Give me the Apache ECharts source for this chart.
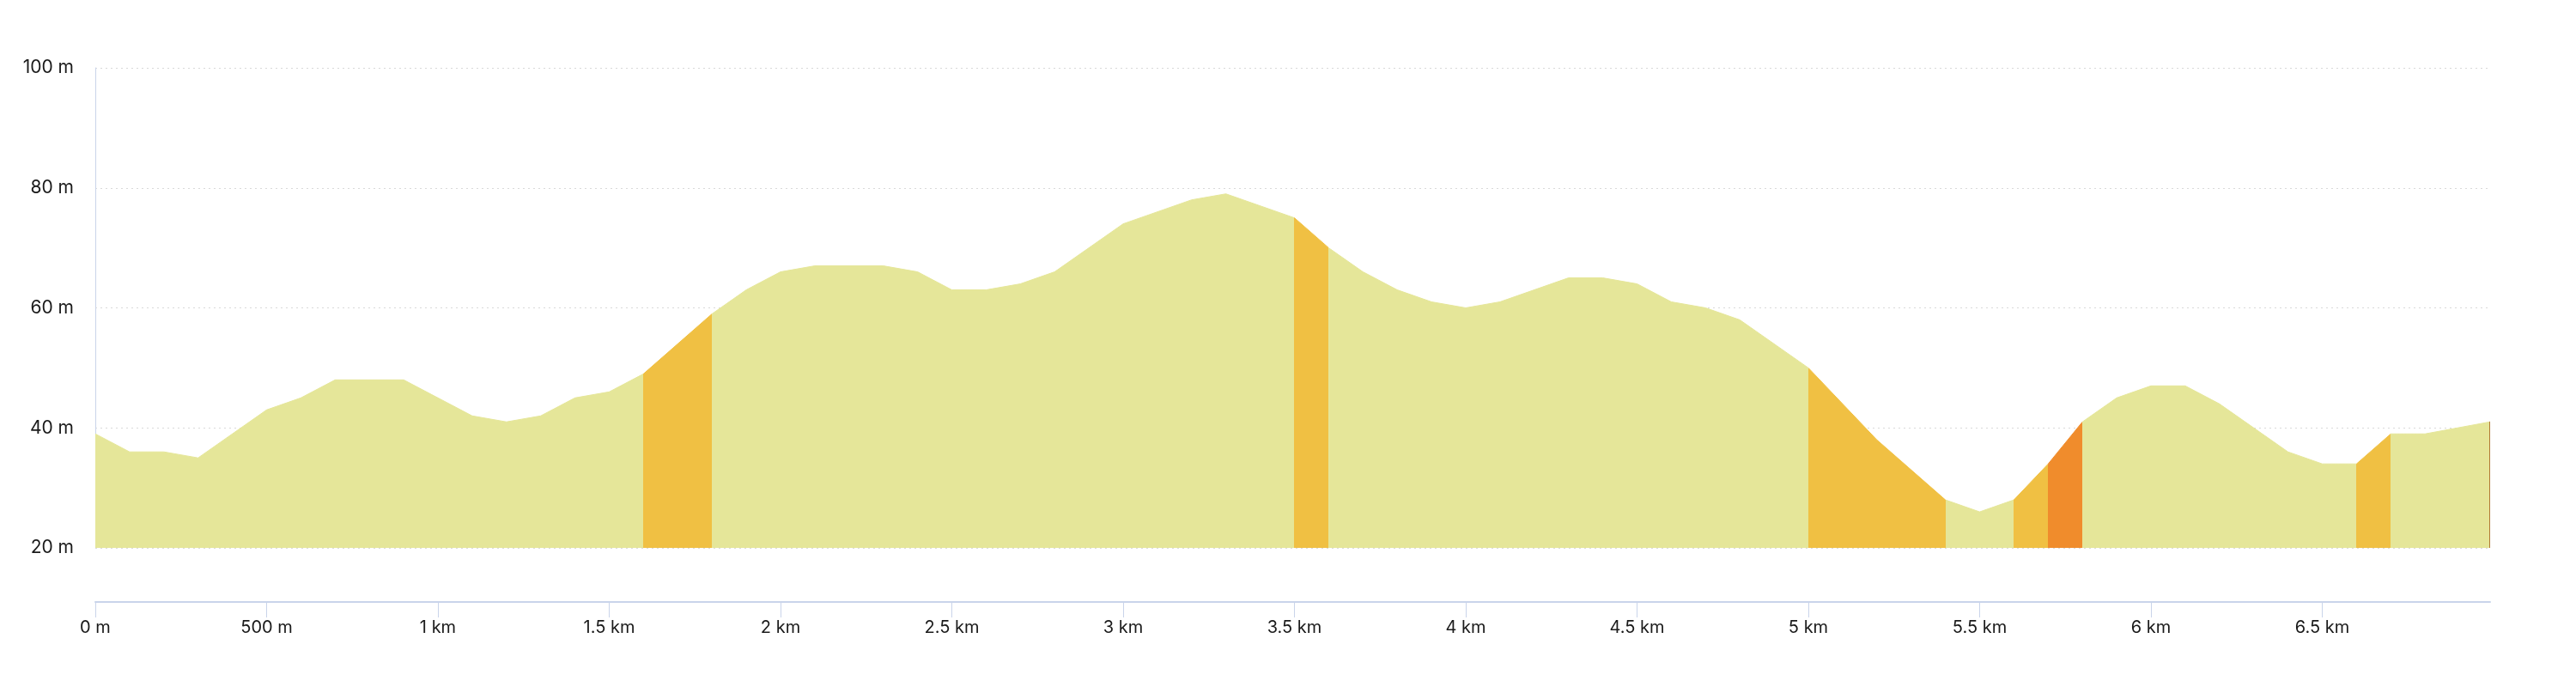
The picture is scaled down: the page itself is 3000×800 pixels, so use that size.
<!DOCTYPE html>
<html>
<head>
<meta charset="utf-8">
<script src="https://cdn.jsdelivr.net/npm/echarts@6/dist/echarts.min.js"></script>
<style>
  html, body { margin: 0; padding: 0; background: #ffffff; }
  #chart { width: 3000px; height: 800px; }
</style>
</head>
<body>
<div id="chart"></div>
<script>
// Distance along the route (m) and elevation (m) at each profile vertex
const distances = [0, 100, 200, 300, 500, 600, 700, 900, 1100, 1200, 1300, 1400, 1500, 1600, 1800, 1900, 2000, 2100, 2300, 2400, 2500, 2600, 2700, 2800, 3000, 3200, 3300, 3500, 3600, 3700, 3800, 3900, 4000, 4100, 4300, 4400, 4500, 4600, 4700, 4800, 5000, 5200, 5400, 5500, 5600, 5700, 5800, 5900, 6000, 6100, 6200, 6400, 6500, 6600, 6700, 6800, 6990];
const elevations = [39, 36, 36, 35, 43, 45, 48, 48, 42, 41, 42, 45, 46, 49, 59, 63, 66, 67, 67, 66, 63, 63, 64, 66, 74, 78, 79, 75, 70, 66, 63, 61, 60, 61, 65, 65, 64, 61, 60, 58, 50, 38, 28, 26, 28, 34, 41, 45, 47, 47, 44, 36, 34, 34, 39, 39, 41];

// Steep sections [from m, to m]
const moderateSections = [[1600, 1800], [3500, 3600], [5000, 5400], [5600, 5700], [6600, 6700]];
const steepSections = [[5700, 5800]];
const endSection = [6987, 6990];

// Axis settings
const yTicks = [20, 40, 60, 80, 100];

const colorFlat = '#e5e699';
const colorModerate = '#f0c043';
const colorSteep = '#f08c2c';
const colorEnd = '#b27a36';
const axisColor = '#c9d4ea';
const fontFamily = 'Inter, Roboto, "Noto Sans", sans-serif';

const pieces = [];
moderateSections.forEach(s => pieces.push({ gt: s[0], lt: s[1], color: colorModerate }));
steepSections.forEach(s => pieces.push({ gt: s[0], lt: s[1], color: colorSteep }));
pieces.push({ gt: endSection[0], lte: endSection[1], color: colorEnd });

const chart = echarts.init(document.getElementById('chart'), null, { renderer: 'canvas' });
chart.setOption({
  animation: false,
  backgroundColor: '#ffffff',
  grid: { left: 111, right: 100, top: 79, bottom: 162, containLabel: false },
  visualMap: {
    type: 'piecewise',
    show: false,
    dimension: 0,
    seriesIndex: 0,
    pieces: pieces,
    outOfRange: { color: colorFlat }
  },
  xAxis: {
    type: 'value',
    min: 0,
    max: distances[distances.length - 1],
    interval: 500,
    offset: 63,
    axisLine: { show: true, lineStyle: { color: axisColor, width: 2 } },
    axisTick: { show: true, length: 18, lineStyle: { color: axisColor, width: 1 } },
    splitLine: { show: false },
    axisLabel: {
      margin: 20,
      color: '#1a1a1a',
      fontSize: 20,
      fontFamily: fontFamily,
      showMaxLabel: false,
      formatter: v => v < 1000 ? v + ' m' : (v / 1000) + ' km'
    }
  },
  yAxis: {
    type: 'value',
    min: yTicks[0],
    max: yTicks[yTicks.length - 1],
    interval: yTicks[1] - yTicks[0],
    axisLine: { show: true, lineStyle: { color: axisColor, width: 1 } },
    axisTick: { show: false },
    splitLine: { show: true, lineStyle: { color: '#d9d9d9', width: 1, type: [2, 4] } },
    axisLabel: {
      margin: 25,
      color: '#1a1a1a',
      fontSize: 21,
      fontFamily: fontFamily,
      formatter: v => v + ' m'
    }
  },
  series: [{
    type: 'line',
    data: distances.map((d, i) => [d, elevations[i]]),
    symbol: 'none',
    smooth: false,
    lineStyle: { width: 1 },
    areaStyle: { origin: 'start', opacity: 1 },
    z: 1
  }]
});
</script>
</body>
</html>
